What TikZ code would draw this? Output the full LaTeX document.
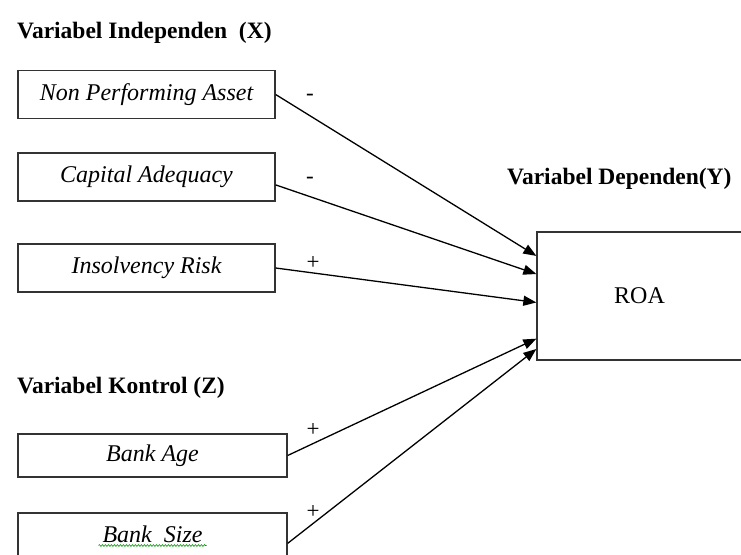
\documentclass[tikz,border=0pt]{standalone}
\usepackage{fontspec}
\setmainfont{Liberation Serif}
\usetikzlibrary{shapes}
\usetikzlibrary{arrows.meta}
\usetikzlibrary{calc}
\usetikzlibrary{decorations.pathmorphing}
\begin{document}
\begin{tikzpicture}[x=1pt,y=-1pt]
\tikzstyle{judul}=[anchor=west,inner sep=0pt,font=\fontsize{23.5}{28}\selectfont\bfseries]
\tikzstyle{variabel}=[rectangle,draw=black!80,line width=1.3pt,minimum width=257pt,
minimum height=48pt,inner sep=0pt,font=\fontsize{24}{28}\selectfont\itshape]
\tikzstyle{kontrol}=[variabel,minimum width=269pt,minimum height=43pt]
\tikzstyle{hasil}=[rectangle,draw=black!80,line width=1.3pt,minimum width=205pt,
minimum height=128pt,inner sep=0pt,font=\fontsize{24}{28}\selectfont]
\tikzstyle{tanda}=[inner sep=0pt,font=\fontsize{23}{28}\selectfont]
\tikzstyle{ejaan}=[draw=green!60!black,line width=0.6pt,decorate,
decoration={snake,amplitude=0.9pt,segment length=3pt}]
%style panah
\tikzstyle{pengaruh}=[-{Triangle[length=13pt,width=10pt]},line width=1.3pt]
\useasboundingbox (0,0) rectangle (741,554);
\clip (0,0) rectangle (741,554);
%judul
\node[judul] (judulx) at (17,33) {Variabel Independen~~(X)};
\node[judul] (juduly) at (507,179) {Variabel Dependen(Y)};
\node[judul] (judulz) at (17,388) {Variabel Kontrol (Z)};
%kotak variabel
\node[variabel] (npa) at (146.5,94.5) {Non Performing Asset};
\node[variabel] (car) at (146.5,177) {Capital Adequacy};
\node[variabel] (ir) at (146.5,268) {Insolvency Risk};
\node[kontrol] (age) at (152.5,455.5) {Bank Age};
\node[kontrol] (size) at (152.5,534.5) {Bank~~Size};
\node[hasil] (roa) at (639.5,296) {ROA};
%tanda pengaruh
\node[tanda] (t1) at (310,97) {-};
\node[tanda] (t2) at (310,180) {-};
\node[tanda] (t3) at (313,263) {+};
\node[tanda] (t4) at (313,430) {+};
\node[tanda] (t5) at (313,512) {+};
%panah
\draw[pengaruh] (npa.east) -- ($(roa.north west)!0.19!(roa.south west)$);
\draw[pengaruh] ($(car.north east)!0.66!(car.south east)$) -- ($(roa.north west)!0.33!(roa.south west)$);
\draw[pengaruh] (ir.east) -- ($(roa.north west)!0.55!(roa.south west)$);
\draw[pengaruh] (age.east) -- ($(roa.north west)!0.83!(roa.south west)$);
\draw[pengaruh] ($(size.north east)!0.7!(size.south east)$) -- ($(roa.north west)!0.91!(roa.south west)$);
%garis ejaan
\draw[ejaan] ($(size.center)+(-54,11)$) -- ++(108,0);
\end{tikzpicture}
\end{document}
